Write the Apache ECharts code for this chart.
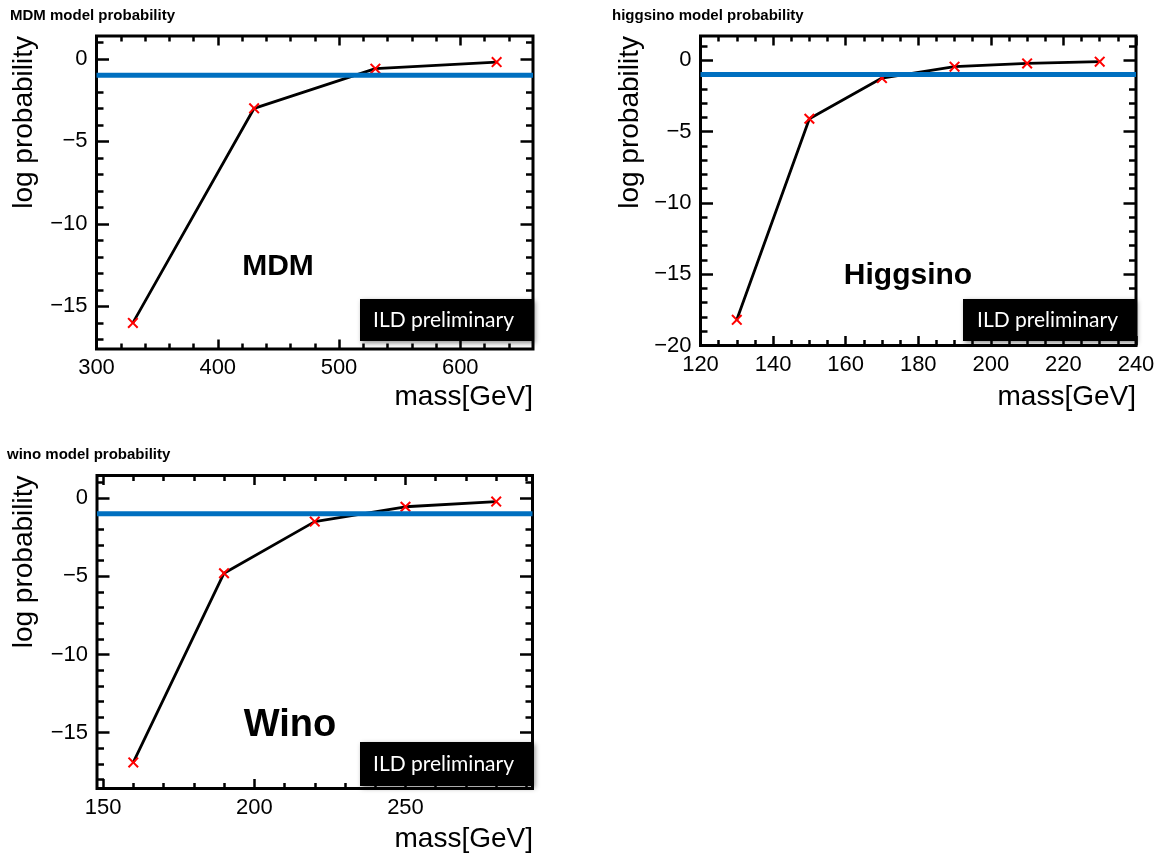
<!DOCTYPE html>
<html>
<head>
<meta charset="utf-8">
<script src="https://cdn.jsdelivr.net/npm/echarts@6/dist/echarts.min.js"></script>
<style>
  html, body { margin: 0; padding: 0; background: #ffffff; }
  #chart { width: 1164px; height: 854px; }
</style>
</head>
<body>
<div id="chart"></div>
<script>
// ---- data: log probability versus mass for each dark-matter model ----
const mdmMass = [330, 430, 530, 630];
const mdmLogProb = [-16.0, -3.0, -0.6, -0.2];

const higgsinoMass = [130, 150, 170, 190, 210, 230];
const higgsinoLogProb = [-18.2, -4.1, -1.25, -0.45, -0.22, -0.1];

const winoMass = [160, 190, 220, 250, 280];
const winoLogProb = [-16.9, -4.8, -1.5, -0.55, -0.22];

// horizontal reference level (blue)
const threshold = -1;

// ---- axis ranges and tick labels ----
const mdmXRange = [300, 660];
const mdmYRange = [-17.58, 1.38];
const mdmXTicks = [300, 400, 500, 600];
const mdmYTicks = [0, -5, -10, -15];

const higgsinoXRange = [120, 240];
const higgsinoYRange = [-20, 1.7];
const higgsinoXTicks = [120, 140, 160, 180, 200, 220, 240];
const higgsinoYTicks = [0, -5, -10, -15, -20];

const winoXRange = [148, 292];
const winoYRange = [-18.57, 1.45];
const winoXTicks = [150, 200, 250];
const winoYTicks = [0, -5, -10, -15];

// minor tick spacing per axis
const mdmMinor = { x: 20, y: 1 };
const higgsinoMinor = { x: 5, y: 1 };
const winoMinor = { x: 10, y: 1 };

const titles = ['MDM model probability', 'higgsino model probability', 'wino model probability'];
const modelNames = ['MDM', 'Higgsino', 'Wino'];
const xName = 'mass[GeV]';
const yName = 'log probability';
const stamp = 'ILD preliminary';

// ---- helpers ----
const FONT = '"Liberation Sans", Arial, Helvetica, sans-serif';
const MINUS = '\u2212';

function minorValues(range, step, majors) {
  const out = [];
  const start = Math.ceil(range[0] / step) * step;
  for (let v = start; v < range[1]; v += step) {
    const r = Math.round(v * 1000) / 1000;
    if (r <= range[0] || r >= range[1]) continue;
    if (majors.some(m => Math.abs(m - r) < 1e-6)) continue;
    out.push(r);
  }
  return out;
}

function fmt(v) {
  const s = String(Math.round(v * 1000) / 1000);
  return s.replace('-', MINUS);
}

const panels = [
  { rect: { left: 96.5, top: 36, width: 436.5, height: 313 },
    mass: mdmMass, logp: mdmLogProb, xr: mdmXRange, yr: mdmYRange,
    xt: mdmXTicks, yt: mdmYTicks, minor: mdmMinor },
  { rect: { left: 700.5, top: 36, width: 435.5, height: 309.5 },
    mass: higgsinoMass, logp: higgsinoLogProb, xr: higgsinoXRange, yr: higgsinoYRange,
    xt: higgsinoXTicks, yt: higgsinoYTicks, minor: higgsinoMinor },
  { rect: { left: 97, top: 475.5, width: 435.5, height: 313 },
    mass: winoMass, logp: winoLogProb, xr: winoXRange, yr: winoYRange,
    xt: winoXTicks, yt: winoYTicks, minor: winoMinor }
];

const grid = [], xAxis = [], yAxis = [], series = [];

const tickStyle = { color: '#000', width: 2.5 };
const labelStyle = { fontSize: 22, fontFamily: FONT, color: '#000' };

panels.forEach((p, i) => {
  grid.push(Object.assign({
    show: true, borderColor: '#000', borderWidth: 3,
    backgroundColor: 'transparent', containLabel: false
  }, p.rect));

  const xMinor = minorValues(p.xr, p.minor.x, p.xt);
  const yMinor = minorValues(p.yr, p.minor.y, p.yt);

  // x axes: bottom (majors with labels, minors), top (majors, minors)
  [['bottom', p.xt, 9.5, true], ['bottom', xMinor, 5.5, false],
   ['top', p.xt, 9.5, false], ['top', xMinor, 5.5, false]].forEach(([pos, vals, len, lbl]) => {
    xAxis.push({
      type: 'value', gridIndex: i, position: pos, min: p.xr[0], max: p.xr[1],
      axisLine: { show: false, onZero: false },
      splitLine: { show: false },
      axisTick: { show: true, inside: true, length: len, lineStyle: tickStyle, customValues: vals },
      axisLabel: lbl
        ? Object.assign({ show: true, margin: 8, customValues: vals, formatter: fmt }, labelStyle)
        : { show: false }
    });
  });

  // y axes: left (majors with labels, minors), right (majors, minors)
  [['left', p.yt, 12.5, true], ['left', yMinor, 7, false],
   ['right', p.yt, 12.5, false], ['right', yMinor, 7, false]].forEach(([pos, vals, len, lbl]) => {
    yAxis.push({
      type: 'value', gridIndex: i, position: pos, min: p.yr[0], max: p.yr[1],
      axisLine: { show: false, onZero: false },
      splitLine: { show: false },
      axisTick: { show: true, inside: true, length: len, lineStyle: tickStyle, customValues: vals },
      axisLabel: lbl
        ? Object.assign({ show: true, margin: 9, customValues: vals, formatter: fmt }, labelStyle)
        : { show: false }
    });
  });

  const ax = i * 4;
  series.push({
    type: 'line', name: modelNames[i], xAxisIndex: ax, yAxisIndex: ax,
    data: p.mass.map((m, k) => [m, p.logp[k]]),
    lineStyle: { color: '#000', width: 2.8 },
    symbol: 'path://M0,1.3L1.3,0L5,3.7L8.7,0L10,1.3L6.3,5L10,8.7L8.7,10L5,6.3L1.3,10L0,8.7L3.7,5Z',
    symbolSize: 11,
    itemStyle: { color: '#ff0000' },
    z: 3, silent: true
  });
  series.push({
    type: 'line', name: 'level', xAxisIndex: ax, yAxisIndex: ax,
    data: [[p.xr[0], threshold], [p.xr[1], threshold]],
    lineStyle: { color: '#0070c0', width: 5 },
    symbol: 'none', z: 4, silent: true
  });
});

// ---- titles, axis names, model labels and stamp boxes ----
const titleComp = [
  { text: titles[0], left: 10, top: 8 },
  { text: titles[1], left: 612, top: 8 },
  { text: titles[2], left: 7, top: 447 }
].map(t => Object.assign(t, {
  padding: 0,
  textStyle: { fontSize: 15, fontWeight: 'bold', fontFamily: FONT, color: '#000' }
}));

function txt(x, y, text, size, opts) {
  return Object.assign({
    type: 'text', x: x, y: y, z: 10, silent: true,
    style: Object.assign({
      text: text, fill: '#000', fontSize: size, fontFamily: FONT,
      align: 'center', verticalAlign: 'middle'
    }, (opts && opts.style) || {})
  }, (opts && opts.el) || {});
}

function stampBox(x, y, w, h, tx, ty) {
  return [
    { type: 'rect', z: 8, silent: true,
      shape: { x: x, y: y, width: w, height: h },
      style: { fill: '#000', shadowBlur: 5, shadowOffsetX: 2, shadowOffsetY: 2, shadowColor: 'rgba(0,0,0,0.45)' } },
    txt(tx, ty, stamp, 21, { style: { fill: '#fff', fontFamily: 'Lato, "Open Sans", sans-serif', align: 'left' } })
  ];
}

const graphic = [].concat(
  // x axis names (right-aligned to the frame)
  txt(533, 397, xName, 28, { style: { align: 'right' } }),
  txt(1136, 397, xName, 28, { style: { align: 'right' } }),
  txt(533, 839, xName, 28, { style: { align: 'right' } }),
  // y axis names (rotated, aligned with the frame top)
  txt(24.5, 36, yName, 28, { style: { align: 'right' }, el: { rotation: Math.PI / 2 } }),
  txt(630, 36, yName, 28, { style: { align: 'right' }, el: { rotation: Math.PI / 2 } }),
  txt(24.5, 475.5, yName, 28, { style: { align: 'right' }, el: { rotation: Math.PI / 2 } }),
  // model labels
  txt(278, 267, modelNames[0], 30, { style: { fontWeight: 'bold' } }),
  txt(908, 276, modelNames[1], 30, { style: { fontWeight: 'bold' } }),
  txt(290, 726, modelNames[2], 38, { style: { fontWeight: 'bold' } }),
  // stamp boxes
  stampBox(360, 299, 173, 42, 373, 320),
  stampBox(963, 299, 172, 42, 977, 320),
  stampBox(360, 742, 173, 44, 373, 764)
);

const chart = echarts.init(document.getElementById('chart'), null, { renderer: 'canvas' });
chart.setOption({
  animation: false,
  backgroundColor: '#ffffff',
  title: titleComp,
  grid: grid,
  xAxis: xAxis,
  yAxis: yAxis,
  series: series,
  graphic: graphic
});
</script>
</body>
</html>
